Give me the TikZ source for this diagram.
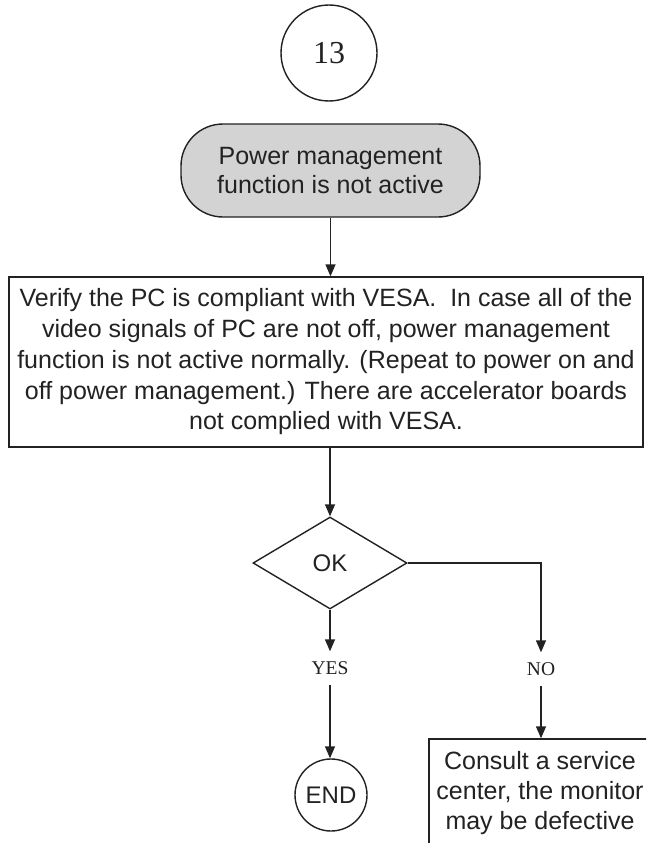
\documentclass[tikz,border=0pt]{standalone}
\usepackage{fontspec}
\setmainfont{Liberation Sans}
\newfontfamily\serifface{Liberation Serif}
\usetikzlibrary{arrows.meta,shapes.geometric}
\definecolor{ink}{HTML}{222222}
\definecolor{termfill}{HTML}{D3D3D3}
\begin{document}
\begin{tikzpicture}[x=1pt,y=-1pt,
  line width=1.4pt,
  every node/.style={text=ink},
  arr/.style={draw=ink,-{Triangle[length=12pt,width=10pt]}},
  boxtext/.style={font=\fontsize{25}{30.75}\selectfont, align=center},
  lbl/.style={font=\serifface\fontsize{19.5}{19.5}\selectfont, inner sep=0pt, minimum height=32pt},
  ]
\useasboundingbox (0,0) rectangle (646,843);
\clip (0,0) rectangle (646,843);
\fill[white] (0,0) rectangle (646,843);

\node[circle, draw=ink, minimum size=96pt, inner sep=0pt,
      font=\serifface\fontsize{32}{32}\selectfont] (c13) at (329,53) {13};

\node[draw=ink, fill=termfill, rounded corners=42pt, minimum width=299pt,
      minimum height=93pt, align=center, inner sep=0pt,
      font=\fontsize{25}{29}\selectfont] (start) at (330.5,170.5)
      {Power management\\function is not active};

\node[draw=ink, minimum width=634pt, minimum height=170pt, inner sep=0pt, boxtext]
      (verify) at (326,362)
      {Verify the PC is compliant with VESA.~\ In case all of the\\
       video signals of PC are not off, power management\\
       function is not active normally. (Repeat to power on and\\
       off power management.) There are accelerator boards\\
       not complied with VESA.};

\node[diamond, draw=ink, aspect=1.67, minimum width=154pt, minimum height=92pt,
      inner sep=0pt, font=\fontsize{24}{24}\selectfont] (ok) at (330,563) {OK};

\node[lbl] (yes) at (330,668) {YES};
\node[lbl] (no) at (541,669) {NO};

\node[circle, draw=ink, minimum size=72pt, inner sep=0pt,
      font=\fontsize{24}{24}\selectfont] (end) at (331,795) {END};

\node[draw=ink, minimum width=222pt, minimum height=108pt, inner sep=0pt,
      font=\fontsize{25}{30}\selectfont, align=center] (svc) at (540,793)
      {Consult a service\\center, the monitor\\may be defective};

\draw[arr] (start.south) -- (start.south |- verify.north);
\draw[arr] (verify.south -| ok.north) -- (ok.north);
\draw[arr] (ok.south) -- (yes.north);
\draw[arr] (yes.south) -- (yes.south |- end.north);
\draw[arr] (ok.east) -| (no.north);
\draw[arr] (no.south) -- (no.south |- svc.north);
\end{tikzpicture}
\end{document}
